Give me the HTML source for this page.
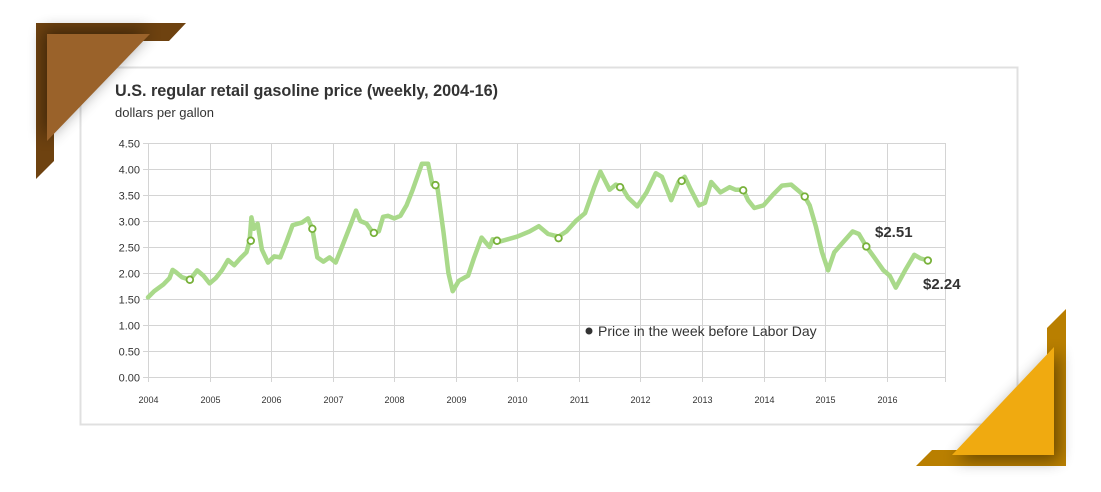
<!DOCTYPE html>
<html><head><meta charset="utf-8"><style>
body{margin:0;background:#fff;width:1101px;height:492px;overflow:hidden;font-family:"Liberation Sans",sans-serif}
</style></head><body>
<svg width="1101" height="492" xmlns="http://www.w3.org/2000/svg" style="position:absolute;left:0;top:0">
<defs>
<filter id="sh" x="-50%" y="-50%" width="200%" height="200%"><feGaussianBlur stdDeviation="8"/></filter>
</defs>
<rect x="80.5" y="67.5" width="937" height="357" fill="#fff" stroke="#e0e0e0" stroke-width="2"/>
<polygon points="36,23 186,23 169,41 54,41 54,161 36,179" fill="#6e4210"/>
<polygon points="44,30 150,30 44,140" fill="#000" opacity="0.45" filter="url(#sh)"/>
<polygon points="47,34 150,34 47,141" fill="#9a622a"/>
<polygon points="1066,309 1066,466 916,466 932,450 1047,450 1047,328" fill="#b97f00"/>
<polygon points="1058,350 1058,460 955,460" fill="#000" opacity="0.45" filter="url(#sh)"/>
<polygon points="1054,347 1054,455 952,455" fill="#f0aa10"/>
<text x="115" y="96" font-size="16.2" font-weight="bold" fill="#333">U.S. regular retail gasoline price (weekly, 2004-16)</text>
<text x="115" y="117" font-size="13" fill="#333">dollars per gallon</text>
<g id="grid" stroke="#d4d4d4" stroke-width="1"></g>
<g id="lab" font-size="11" fill="#333"></g>
<polyline id="ln" fill="none" stroke="#a9d98a" stroke-width="4.5" stroke-linejoin="round" stroke-linecap="round"/>
<g id="mk" fill="#fff" stroke="#78b13a" stroke-width="1.8"></g>
<circle cx="589" cy="331" r="3.5" fill="#333"/>
<text x="598" y="336" font-size="14" fill="#333">Price in the week before Labor Day</text>
<text x="875" y="237" font-size="15" font-weight="bold" fill="#333">$2.51</text>
<text x="923" y="289" font-size="15" font-weight="bold" fill="#333">$2.24</text>
</svg>
<script>
var ns="http://www.w3.org/2000/svg";
function X(t){return 148+(t-2004)*61.55}
function Y(p){return 377-p*52}
var g=document.getElementById('grid'),lab=document.getElementById('lab');
function el(p,n,a,txt){var e=document.createElementNS(ns,n);for(var k in a)e.setAttribute(k,a[k]);if(txt)e.textContent=txt;p.appendChild(e);return e}
for(var i=0;i<=9;i++){var y=Y(i*0.5)+0.5;el(g,'line',{x1:143,x2:945,y1:y,y2:y});el(lab,'text',{x:140,y:y+4,'text-anchor':'end'},(i*0.5).toFixed(2))}
for(var yr=2004;yr<=2016;yr++){var x=Math.round(X(yr))+0.5;el(g,'line',{x1:x,x2:x,y1:143,y2:382});el(lab,'text',{x:x,y:403,'text-anchor':'middle','font-size':9},yr)}
el(g,'line',{x1:945.5,x2:945.5,y1:143,y2:382});
var d=[2004.0,1.53,2004.1,1.65,2004.25,1.78,2004.35,1.9,2004.4,2.06,2004.45,2.02,2004.55,1.92,2004.68,1.87,2004.8,2.05,2004.9,1.95,2005.0,1.8,2005.1,1.9,2005.2,2.05,2005.3,2.25,2005.4,2.15,2005.5,2.28,2005.6,2.4,2005.65,2.62,2005.68,3.07,2005.72,2.85,2005.78,2.95,2005.85,2.45,2005.95,2.2,2006.05,2.32,2006.15,2.3,2006.25,2.6,2006.35,2.92,2006.5,2.97,2006.6,3.05,2006.67,2.85,2006.75,2.3,2006.85,2.22,2006.95,2.3,2007.05,2.2,2007.15,2.5,2007.3,2.95,2007.38,3.2,2007.45,3.0,2007.55,2.95,2007.65,2.78,2007.75,2.8,2007.82,3.08,2007.9,3.1,2008.0,3.05,2008.1,3.1,2008.2,3.3,2008.3,3.6,2008.45,4.1,2008.55,4.1,2008.62,3.7,2008.7,3.66,2008.8,2.8,2008.88,2.0,2008.95,1.65,2009.05,1.85,2009.2,1.95,2009.3,2.3,2009.42,2.68,2009.55,2.5,2009.6,2.65,2009.7,2.6,2009.85,2.65,2010.0,2.7,2010.2,2.8,2010.35,2.9,2010.5,2.75,2010.67,2.7,2010.8,2.8,2010.95,3.0,2011.1,3.15,2011.25,3.65,2011.35,3.95,2011.5,3.6,2011.6,3.7,2011.7,3.65,2011.8,3.45,2011.95,3.28,2012.1,3.55,2012.25,3.92,2012.35,3.85,2012.5,3.4,2012.62,3.75,2012.72,3.85,2012.82,3.6,2012.95,3.3,2013.05,3.35,2013.15,3.75,2013.3,3.55,2013.45,3.65,2013.55,3.6,2013.67,3.6,2013.75,3.4,2013.85,3.25,2014.0,3.3,2014.15,3.5,2014.3,3.68,2014.45,3.7,2014.6,3.55,2014.67,3.47,2014.75,3.3,2014.85,2.9,2014.95,2.4,2015.05,2.05,2015.15,2.4,2015.3,2.6,2015.45,2.8,2015.55,2.75,2015.67,2.51,2015.8,2.3,2015.95,2.05,2016.05,1.95,2016.15,1.72,2016.3,2.05,2016.45,2.35,2016.55,2.28,2016.67,2.24];
var pts=[];for(var i=0;i<d.length;i+=2)pts.push(X(d[i]).toFixed(1)+','+Y(d[i+1]).toFixed(1));
document.getElementById('ln').setAttribute('points',pts.join(' '));
var m=[[2004.68,1.87],[2005.67,2.62],[2006.67,2.85],[2007.67,2.77],[2008.67,3.69],[2009.67,2.62],[2010.67,2.67],[2011.67,3.65],[2012.67,3.77],[2013.67,3.59],[2014.67,3.47],[2015.67,2.51],[2016.67,2.24]];
var mk=document.getElementById('mk');m.forEach(function(a){el(mk,'circle',{cx:X(a[0]),cy:Y(a[1]),r:3.3})});
</script>
</body></html>
